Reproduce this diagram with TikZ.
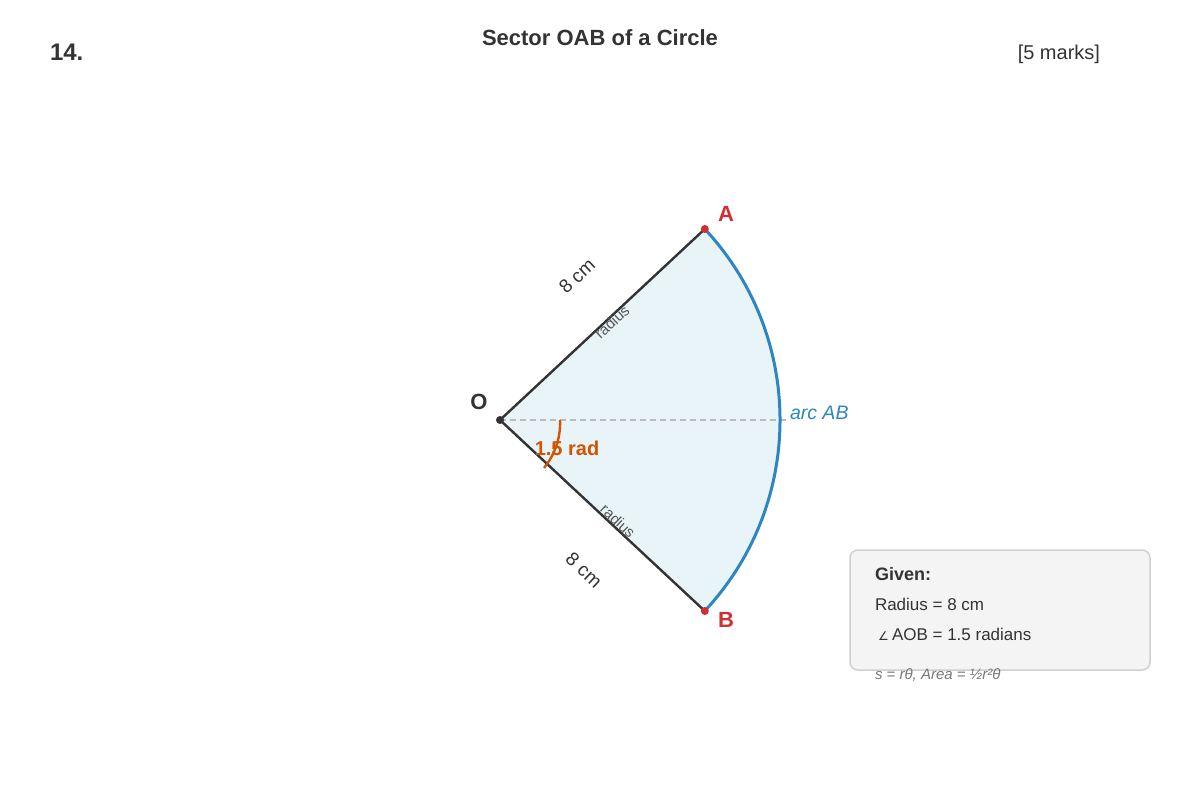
\documentclass[tikz,border=0pt]{standalone}
\usepackage{fontspec}
\setmainfont{Liberation Sans}
\newfontfamily\djv{DejaVu Sans}
\definecolor{dark}{HTML}{333333}
\definecolor{sectfill}{HTML}{E8F4F8}
\definecolor{arcblue}{HTML}{2E86C1}
\definecolor{ptred}{HTML}{D03030}
\definecolor{angorange}{HTML}{D35400}
\definecolor{radgray}{HTML}{555555}
\definecolor{boxfill}{HTML}{F4F4F4}
\definecolor{boxline}{HTML}{D0D0D0}
\definecolor{formgray}{HTML}{777777}
\definecolor{dashgray}{HTML}{BBBBBB}
\newcommand{\fsz}[1]{\fontsize{#1}{#1}\selectfont}
\begin{document}
\begin{tikzpicture}[x=1pt,y=-1pt,
  every node/.style={inner sep=0pt,outer sep=0pt},
  ptlabel/.style={font=\fsz{22}\bfseries},
  sidelen/.style={font=\fsz{19},text=dark},
  radlab/.style={font=\fsz{15},text=radgray},
  boxtext/.style={font=\fsz{17},text=dark,anchor=west},
  radline/.style={draw=dark,line width=2.4pt},
  dotpt/.style={circle,fill=#1,minimum size=8pt}]
\useasboundingbox (0,0) rectangle (1200,800);
% header
\node[anchor=west,font=\fsz{24}\bfseries,text=dark] (num) at (50,52) {14.};
\node[font=\fsz{22}\bfseries,text=dark] (title) at (600,38) {Sector OAB of a Circle};
\node[anchor=east,font=\fsz{20},text=dark] (marks) at (1100,54) {[5 marks]};
% geometry
\coordinate (O) at (500,420);
\coordinate (A) at (704.8,229);
\coordinate (B) at (704.8,611);
\coordinate (dashend) at (790,420);
\fill[sectfill] (O) -- (A) arc[start angle=-43,end angle=43,radius=280] -- cycle;
\draw[dashgray,line width=1.4pt,dash pattern=on 6pt off 4pt] (O) -- (dashend);
\draw[arcblue,line width=3pt] (A) arc[start angle=-43,end angle=43,radius=280];
\draw[radline] (O) -- (A);
\draw[radline] (O) -- (B);
\coordinate (ang1) at (560,420);
\coordinate (ang2) at (544,468);
\draw[angorange,line width=2.4pt] (ang1) .. controls (561,440) and (553,457) .. (ang2);
\node[dotpt=dark,minimum size=8pt] (Odot) at (O) {};
\node[dotpt=ptred] (Adot) at (A) {};
\node[dotpt=ptred] (Bdot) at (B) {};
% labels
\node[ptlabel,text=dark] (Olab) at (479,402) {O};
\node[ptlabel,text=ptred] (Alab) at (726,214) {A};
\node[ptlabel,text=ptred] (Blab) at (726,620) {B};
\node[anchor=west,font=\fsz{19.5}\itshape,text=arcblue] (arclab) at (790,413) {arc AB};
\node[font=\fsz{20}\bfseries,text=angorange] (anglab) at (567,448) {1.5 rad};
\node[sidelen,rotate=43] (len1) at (577,276) {8 cm};
\node[radlab,rotate=43] (rad1) at (612,322) {radius};
\node[radlab,rotate=-43] (rad2) at (618,521) {radius};
\node[sidelen,rotate=-43] (len2) at (584,570) {8 cm};
% given box
\draw[boxline,fill=boxfill,line width=1.5pt,rounded corners=8pt] (850,550) rectangle (1150,670);
\node[boxtext,font=\fsz{18}\bfseries] (given) at (875,574) {Given:};
\node[boxtext] (radius) at (875,604) {Radius = 8 cm};
\node[anchor=west,font=\djv\fsz{12},text=dark] (angsym) at (878,636) {∠};
\node[boxtext] (angle) at (892,634) {AOB = 1.5 radians};
\node[anchor=west,font=\fsz{15}\itshape,text=formgray] (formula) at (875,675) {s = rθ, Area = ½r²θ};
\end{tikzpicture}
\end{document}
